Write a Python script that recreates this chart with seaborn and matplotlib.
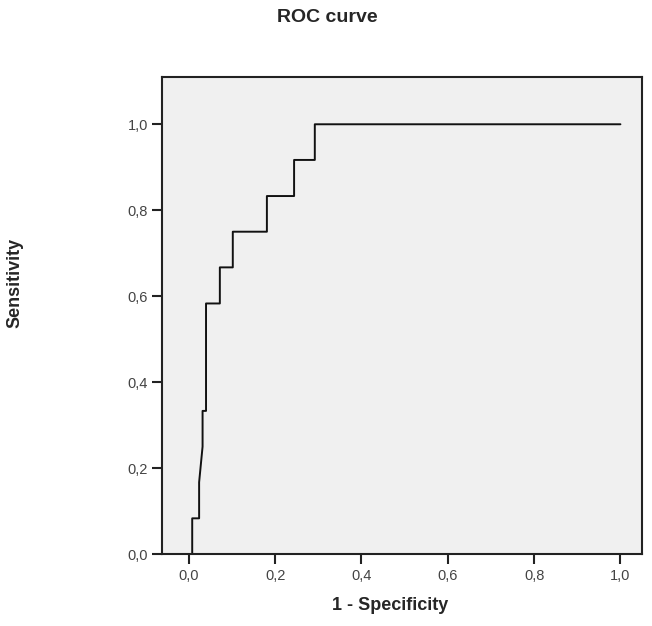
import matplotlib
matplotlib.use("Agg")
import matplotlib.pyplot as plt
import seaborn as sns
import pandas as pd
from matplotlib.ticker import FixedLocator, FuncFormatter

# ROC curve points (1 - specificity, sensitivity)
fpr = [0.0, 0.008, 0.008, 0.024, 0.024, 0.032, 0.032, 0.040, 0.040, 0.072, 0.072,
       0.102, 0.102, 0.181, 0.181, 0.244, 0.244, 0.292, 0.292, 1.0]
tpr = [0.0, 0.0, 0.083, 0.083, 0.167, 0.250, 0.333, 0.333, 0.583, 0.583, 0.667,
       0.667, 0.750, 0.750, 0.833, 0.833, 0.917, 0.917, 1.0, 1.0]
ticks = [0.0, 0.2, 0.4, 0.6, 0.8, 1.0]
title = "ROC curve"
xlabel = "1 - Specificity"
ylabel = "Sensitivity"

sns.set_style("white")
plt.rcParams['font.family'] = ['Liberation Sans', 'DejaVu Sans']

df = pd.DataFrame({"fpr": fpr, "tpr": tpr})

fig = plt.figure(figsize=(6.52, 6.26), dpi=100)
W, H = 652, 626
left, right, top, bottom = 162, 642, 77, 554
ax = fig.add_axes([left / W, 1 - bottom / H, (right - left) / W, (bottom - top) / H])
ax.set_facecolor("#f0f0f0")

sns.lineplot(data=df, x="fpr", y="tpr", sort=False, estimator=None,
             color="#111111", linewidth=1.4, ax=ax)

ax.set_xlim(-0.062, 1.05)
ax.set_ylim(0.0, 1.11)
ax.xaxis.set_major_locator(FixedLocator(ticks))
ax.yaxis.set_major_locator(FixedLocator(ticks))
fmt = FuncFormatter(lambda v, p: f"{v:.1f}".replace(".", ","))
ax.xaxis.set_major_formatter(fmt)
ax.yaxis.set_major_formatter(fmt)
ax.tick_params(axis="both", which="major", bottom=True, left=True, top=False, right=False,
               direction="out", length=7, width=1.5, color="#222222",
               labelsize=10.5, labelcolor="#444444")
ax.tick_params(axis="x", pad=4)
ax.tick_params(axis="y", pad=3)
for s in ax.spines.values():
    s.set_visible(True)
    s.set_color("#222222")
    s.set_linewidth(1.5)
ax.set_xlabel("")
ax.set_ylabel("")

fig.text(327 / W, 1 - 18 / H, title, ha="center", va="center", fontsize=14, fontweight="bold")
fig.text(390 / W, 1 - 606 / H, xlabel, ha="center", va="center", fontsize=13, fontweight="bold")
fig.text(15 / W, 1 - 283 / H, ylabel, ha="center", va="center", rotation=90, fontsize=13, fontweight="bold")

fig.savefig("out.png", dpi=100, facecolor="white")
